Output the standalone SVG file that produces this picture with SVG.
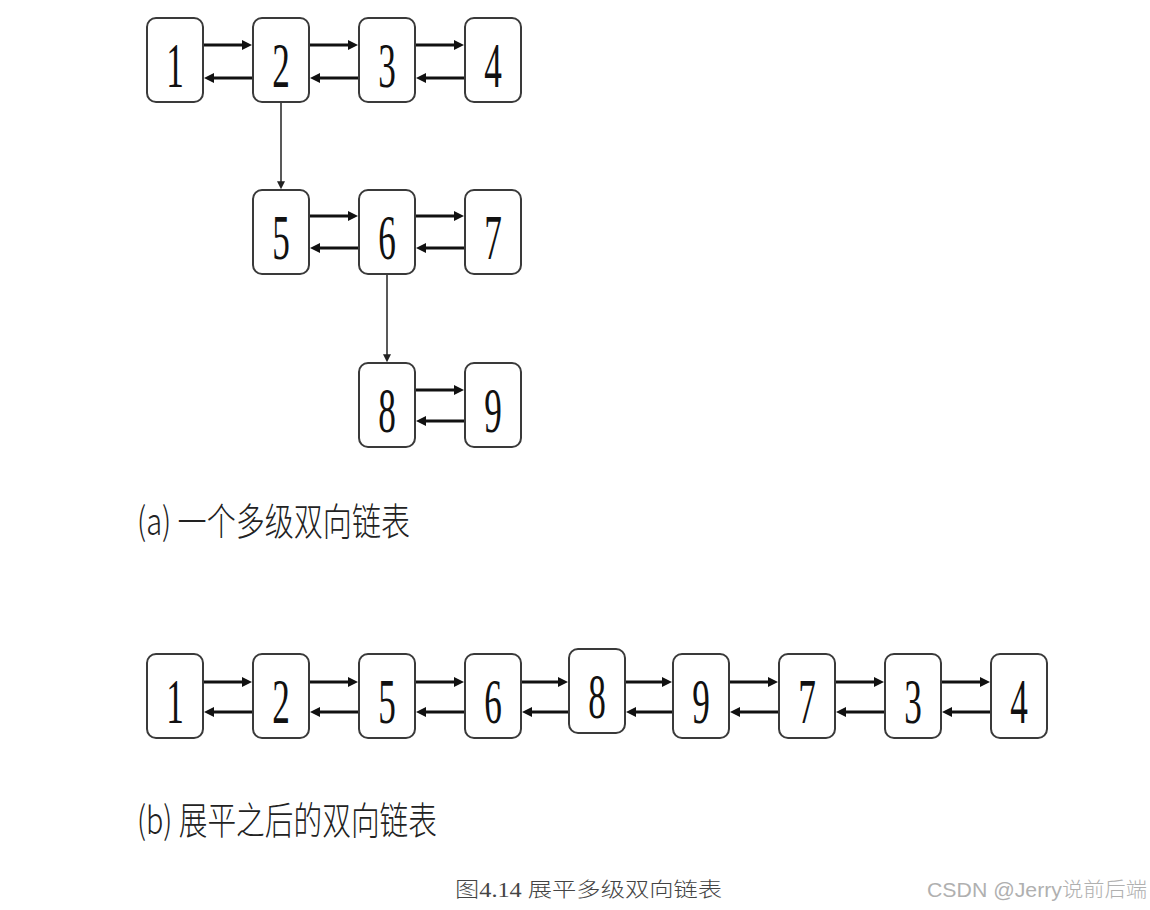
<svg xmlns="http://www.w3.org/2000/svg" width="1150" height="910" viewBox="0 0 1150 910">
<style>
.box{fill:#fff;stroke:#3a3a3a;stroke-width:2}
.num{font-family:"Liberation Serif",serif;font-size:64px;fill:#111;text-anchor:middle}
.link{stroke:#111;stroke-width:3;fill:none}
.down{stroke:#222;stroke-width:1.5;fill:none}
.lbl{font-family:"Noto Sans CJK SC","Noto Sans CJK JP",sans-serif;font-size:38px;font-weight:300;fill:#222}
.cap{font-family:"Liberation Serif","Noto Sans CJK SC",serif;font-size:20px;font-weight:300;fill:#444}
.wm{font-family:"Liberation Sans","Noto Sans CJK SC",sans-serif;font-size:20px;font-weight:300;fill:#b0b0b0}
</style>
<defs>
<marker id="ah" viewBox="0 0 10 10" refX="1" refY="5" markerWidth="10" markerHeight="10" markerUnits="userSpaceOnUse" orient="auto">
<path d="M0,0 L10,5 L0,10 z" fill="#111"/>
</marker>
<marker id="ahs" viewBox="0 0 10 10" refX="1" refY="5" markerWidth="8" markerHeight="8" markerUnits="userSpaceOnUse" orient="auto">
<path d="M0,0 L10,5 L0,10 z" fill="#222"/>
</marker>
</defs>
<rect width="1150" height="910" fill="#fff"/>

<!-- (a) nodes -->
<g id="a1" transform="translate(147,18)"><rect class="box" width="56" height="84" rx="9"/><text class="num" transform="translate(28,69) scale(0.55,1)">1</text></g>
<g id="a2" transform="translate(253,18)"><rect class="box" width="56" height="84" rx="9"/><text class="num" transform="translate(28,69) scale(0.55,1)">2</text></g>
<g id="a3" transform="translate(359,18)"><rect class="box" width="56" height="84" rx="9"/><text class="num" transform="translate(28,69) scale(0.55,1)">3</text></g>
<g id="a4" transform="translate(465,18)"><rect class="box" width="56" height="84" rx="9"/><text class="num" transform="translate(28,69) scale(0.55,1)">4</text></g>
<g id="a5" transform="translate(253,190)"><rect class="box" width="56" height="84" rx="9"/><text class="num" transform="translate(28,69) scale(0.55,1)">5</text></g>
<g id="a6" transform="translate(359,190)"><rect class="box" width="56" height="84" rx="9"/><text class="num" transform="translate(28,69) scale(0.55,1)">6</text></g>
<g id="a7" transform="translate(465,190)"><rect class="box" width="56" height="84" rx="9"/><text class="num" transform="translate(28,69) scale(0.55,1)">7</text></g>
<g id="a8" transform="translate(359,363)"><rect class="box" width="56" height="84" rx="9"/><text class="num" transform="translate(28,69) scale(0.55,1)">8</text></g>
<g id="a9" transform="translate(465,363)"><rect class="box" width="56" height="84" rx="9"/><text class="num" transform="translate(28,69) scale(0.55,1)">9</text></g>

<!-- (b) nodes -->
<g id="b1" transform="translate(147,654)"><rect class="box" width="56" height="84" rx="9"/><text class="num" transform="translate(28,69) scale(0.55,1)">1</text></g>
<g id="b2" transform="translate(253,654)"><rect class="box" width="56" height="84" rx="9"/><text class="num" transform="translate(28,69) scale(0.55,1)">2</text></g>
<g id="b5" transform="translate(359,654)"><rect class="box" width="56" height="84" rx="9"/><text class="num" transform="translate(28,69) scale(0.55,1)">5</text></g>
<g id="b6" transform="translate(465,654)"><rect class="box" width="56" height="84" rx="9"/><text class="num" transform="translate(28,69) scale(0.55,1)">6</text></g>
<g id="b8" transform="translate(569,649)"><rect class="box" width="56" height="84" rx="9"/><text class="num" transform="translate(28,69) scale(0.55,1)">8</text></g>
<g id="b9" transform="translate(673,654)"><rect class="box" width="56" height="84" rx="9"/><text class="num" transform="translate(28,69) scale(0.55,1)">9</text></g>
<g id="b7" transform="translate(779,654)"><rect class="box" width="56" height="84" rx="9"/><text class="num" transform="translate(28,69) scale(0.55,1)">7</text></g>
<g id="b3" transform="translate(885,654)"><rect class="box" width="56" height="84" rx="9"/><text class="num" transform="translate(28,69) scale(0.55,1)">3</text></g>
<g id="b4" transform="translate(991,654)"><rect class="box" width="56" height="84" rx="9"/><text class="num" transform="translate(28,69) scale(0.55,1)">4</text></g>

<!-- connectors -->
<g id="connectors">
<line class="link" x1="204" y1="45" x2="243" y2="45" marker-end="url(#ah)"/>
<line class="link" x1="252" y1="78" x2="213" y2="78" marker-end="url(#ah)"/>
<line class="link" x1="310" y1="45" x2="349" y2="45" marker-end="url(#ah)"/>
<line class="link" x1="358" y1="78" x2="319" y2="78" marker-end="url(#ah)"/>
<line class="link" x1="416" y1="45" x2="455" y2="45" marker-end="url(#ah)"/>
<line class="link" x1="464" y1="78" x2="425" y2="78" marker-end="url(#ah)"/>
<line class="link" x1="310" y1="216" x2="349" y2="216" marker-end="url(#ah)"/>
<line class="link" x1="358" y1="248" x2="319" y2="248" marker-end="url(#ah)"/>
<line class="link" x1="416" y1="216" x2="455" y2="216" marker-end="url(#ah)"/>
<line class="link" x1="464" y1="248" x2="425" y2="248" marker-end="url(#ah)"/>
<line class="link" x1="416" y1="390" x2="455" y2="390" marker-end="url(#ah)"/>
<line class="link" x1="464" y1="421" x2="425" y2="421" marker-end="url(#ah)"/>
<line class="down" x1="281" y1="103" x2="281" y2="182" marker-end="url(#ahs)"/>
<line class="down" x1="387" y1="275" x2="387" y2="355" marker-end="url(#ahs)"/>
<line class="link" x1="204" y1="682" x2="243" y2="682" marker-end="url(#ah)"/>
<line class="link" x1="252" y1="712" x2="213" y2="712" marker-end="url(#ah)"/>
<line class="link" x1="310" y1="682" x2="349" y2="682" marker-end="url(#ah)"/>
<line class="link" x1="358" y1="712" x2="319" y2="712" marker-end="url(#ah)"/>
<line class="link" x1="416" y1="682" x2="455" y2="682" marker-end="url(#ah)"/>
<line class="link" x1="464" y1="712" x2="425" y2="712" marker-end="url(#ah)"/>
<line class="link" x1="522" y1="682" x2="559" y2="682" marker-end="url(#ah)"/>
<line class="link" x1="568" y1="712" x2="531" y2="712" marker-end="url(#ah)"/>
<line class="link" x1="626" y1="682" x2="663" y2="682" marker-end="url(#ah)"/>
<line class="link" x1="672" y1="712" x2="635" y2="712" marker-end="url(#ah)"/>
<line class="link" x1="730" y1="682" x2="769" y2="682" marker-end="url(#ah)"/>
<line class="link" x1="778" y1="712" x2="739" y2="712" marker-end="url(#ah)"/>
<line class="link" x1="836" y1="682" x2="875" y2="682" marker-end="url(#ah)"/>
<line class="link" x1="884" y1="712" x2="845" y2="712" marker-end="url(#ah)"/>
<line class="link" x1="942" y1="682" x2="981" y2="682" marker-end="url(#ah)"/>
<line class="link" x1="990" y1="712" x2="951" y2="712" marker-end="url(#ah)"/>
</g>

<!-- labels -->
<text class="lbl" x="137" y="535" textLength="273" lengthAdjust="spacingAndGlyphs">(a) 一个多级双向链表</text>
<text class="lbl" x="137" y="834" textLength="300" lengthAdjust="spacingAndGlyphs">(b) 展平之后的双向链表</text>
<text class="cap" x="455" y="897" textLength="267" lengthAdjust="spacingAndGlyphs">图4.14 展平多级双向链表</text>
<text class="wm" x="927" y="897" textLength="220" lengthAdjust="spacingAndGlyphs">CSDN @Jerry说前后端</text>
</svg>
